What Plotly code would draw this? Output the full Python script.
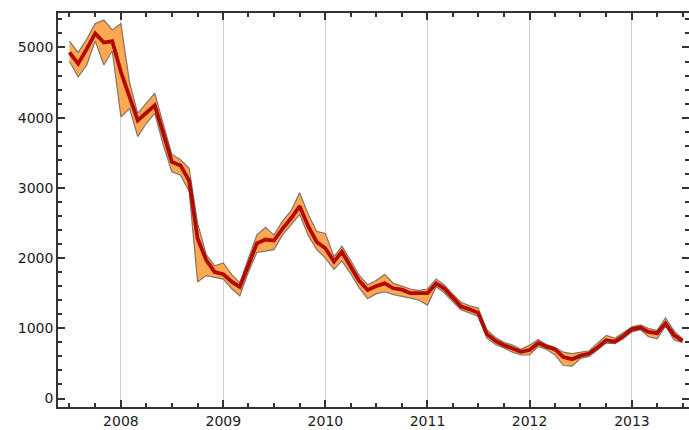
import plotly.graph_objects as go
import pandas as pd

months = pd.date_range("2007-07-01", "2013-07-01", freq="MS").strftime("%Y-%m-%d").tolist()

mean_vals = [4930, 4770, 4980, 5200, 5070, 5090, 4650, 4300, 3960, 4070, 4175, 3770,
             3370, 3320, 3100, 2280, 1970, 1800, 1770, 1660, 1590, 1900, 2210, 2265,
             2250, 2420, 2570, 2740, 2450, 2230, 2140, 1950, 2090, 1880, 1680, 1545,
             1600, 1640, 1570, 1550, 1500, 1500, 1500, 1640, 1570, 1440, 1310, 1270,
             1220, 920, 820, 760, 710, 665, 690, 790, 740, 700, 590, 560,
             610, 640, 730, 830, 810, 890, 990, 1010, 950, 930, 1070, 900,
             820]
low_vals = [4800, 4580, 4750, 5090, 4750, 4950, 4010, 4130, 3730, 3920, 4060, 3600,
            3230, 3180, 2950, 1660, 1750, 1730, 1700, 1560, 1460, 1800, 2080, 2100,
            2120, 2330, 2480, 2620, 2320, 2120, 2000, 1840, 1960, 1780, 1580, 1420,
            1490, 1520, 1480, 1460, 1430, 1400, 1330, 1590, 1510, 1380, 1260, 1220,
            1170, 860, 770, 720, 660, 620, 620, 740, 700, 620, 470, 460,
            570, 600, 690, 790, 780, 850, 950, 980, 880, 850, 1030, 830,
            800]
high_vals = [5090, 4930, 5120, 5340, 5390, 5250, 5340, 4500, 4060, 4200, 4350, 3900,
             3480, 3400, 3280, 2500, 2050, 1890, 1930, 1760, 1650, 2000, 2330, 2440,
             2330, 2530, 2680, 2930, 2620, 2380, 2350, 2020, 2170, 1970, 1760, 1620,
             1680, 1770, 1640, 1600, 1560, 1540, 1560, 1700, 1620, 1490, 1370, 1320,
             1290, 980, 870, 800, 760, 700, 760, 840, 770, 730, 660, 640,
             660, 680, 790, 900, 860, 940, 1020, 1050, 1000, 970, 1150, 960,
             850]

year_ticks = ["2008-01-01", "2009-01-01", "2010-01-01", "2011-01-01", "2012-01-01", "2013-01-01"]
year_labels = ["2008", "2009", "2010", "2011", "2012", "2013"]
y_ticks = [0, 1000, 2000, 3000, 4000, 5000]

edge = dict(color="rgba(95,95,95,0.8)", width=1.2)
fig = go.Figure()
fig.add_trace(go.Scatter(x=months, y=low_vals, mode="lines", line=edge, showlegend=False, hoverinfo="skip"))
fig.add_trace(go.Scatter(x=months, y=high_vals, mode="lines", line=edge, fill="tonexty",
                         fillcolor="rgb(255,168,82)", showlegend=False, hoverinfo="skip"))
fig.add_trace(go.Scatter(x=months, y=mean_vals, mode="lines",
                         line=dict(color="rgb(178,10,0)", width=3.8), showlegend=False))

axis_font = dict(family="DejaVu Sans", size=14, color="#1a1a1a")
fig.update_layout(
    width=689, height=430,
    margin=dict(l=58, r=0, t=13, b=23, autoexpand=False),
    paper_bgcolor="white", plot_bgcolor="white",
    font=axis_font,
    xaxis=dict(
        type="date", range=["2007-05-21", "2013-07-24"],
        tickvals=year_ticks, ticktext=year_labels,
        ticks="inside", ticklen=7, tickwidth=1.6, tickcolor="#333333",
        showgrid=True, gridcolor="#d0d0d0", gridwidth=1.2,
        showline=True, linecolor="#333333", linewidth=1.6, mirror="ticks",
        zeroline=False, tickfont=axis_font, automargin=False,
        minor=dict(dtick="M3", tick0="2008-01-01", ticks="inside", ticklen=4,
                   tickwidth=1.6, tickcolor="#333333", showgrid=False),
    ),
    yaxis=dict(
        range=[-121, 5491],
        tickvals=y_ticks,
        ticks="inside", ticklen=7, tickwidth=1.6, tickcolor="#333333",
        showgrid=False,
        showline=True, linecolor="#333333", linewidth=1.6, mirror="ticks",
        zeroline=False, tickfont=axis_font, automargin=False,
        minor=dict(dtick=200, tick0=0, ticks="inside", ticklen=4,
                   tickwidth=1.6, tickcolor="#333333", showgrid=False),
    ),
)
fig.write_html("out.html", config={"displayModeBar": False},
               post_script="document.body.style.margin='0';document.body.style.overflow='hidden';")
